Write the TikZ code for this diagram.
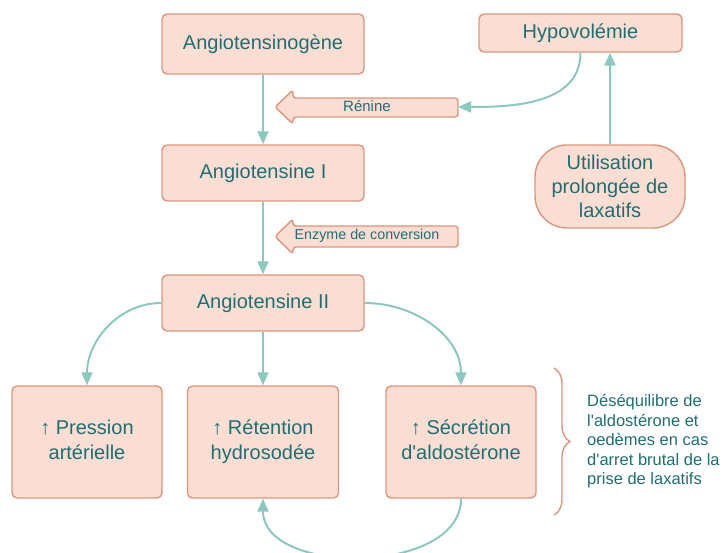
\documentclass[tikz,border=0pt]{standalone}
\usepackage{fontspec}
\setmainfont{Liberation Sans}
\usetikzlibrary{arrows.meta,decorations.pathreplacing}
\definecolor{boxfill}{HTML}{FADDD3}
\definecolor{boxline}{HTML}{DB967E}
\definecolor{txtc}{HTML}{216E72}
\definecolor{connc}{HTML}{8DC8C0}
\begin{document}
\begin{tikzpicture}[x=1pt,y=1pt,
  box/.style={draw=boxline, fill=boxfill, line width=1.4pt, rounded corners=5pt,
    text=txtc, font=\fontsize{20}{25}\selectfont, align=center, inner sep=0pt},
  arrowshape/.style={draw=boxline, fill=boxfill, line width=1.4pt, rounded corners=3pt},
  lbl/.style={text=txtc, inner sep=0pt},
  link/.style={draw=connc, line width=2pt, -{Triangle[width=11pt,length=13pt]}}
]
\useasboundingbox (0,0) rectangle (723,553);

% main boxes
\node[box, minimum width=202pt, minimum height=60pt] (ogene) at (263,509) {Angiotensinogène};
\node[box, minimum width=202pt, minimum height=56pt] (angI) at (263,380) {Angiotensine I};
\node[box, minimum width=202pt, minimum height=56pt] (angII) at (263,250) {Angiotensine II};
\node[box, minimum width=203pt, minimum height=38pt] (hypo) at (580.5,520) {Hypovolémie};
\node[box, minimum width=150pt, minimum height=83pt, rounded corners=32pt,
  font=\fontsize{20}{24}\selectfont] (util) at (610,366.5) {Utilisation\\prolongée de\\laxatifs};
\node[box, minimum width=150pt, minimum height=112pt] (pres) at (87,111) {↑ Pression\\artérielle\rule[-4pt]{0pt}{0pt}};
\node[box, minimum width=151pt, minimum height=112pt] (ret) at (263,111) {↑ Rétention\\hydrosodée\rule[-4pt]{0pt}{0pt}};
\node[box, minimum width=150pt, minimum height=112pt] (sec) at (461,111) {↑ Sécrétion\\d\textquotesingle aldostérone\rule[-4pt]{0pt}{0pt}};

% enzyme arrows
\draw[arrowshape] (458,455) -- (293,455) -- (293,463) -- (275,446) -- (293,429) -- (293,436) -- (458,436) -- cycle;
\node[lbl, font=\fontsize{15}{18}\selectfont] (renine) at (367,447) {Rénine};
\coordinate (renR) at (458,446);

\draw[arrowshape] (458,327) -- (293,327) -- (293,334) -- (275,316.5) -- (293,299) -- (293,306) -- (458,306) -- cycle;
\node[lbl, font=\fontsize{14.3}{17}\selectfont] (enz) at (367,317) {Enzyme de conversion};

% connectors
\draw[link] (ogene.south) -- (angI.north);
\draw[link] (angI.south) -- (angII.north);
\draw[link] (angII.south) -- (ret.north);
\draw[link] (angII.west) to[out=180,in=90] (pres.north);
\draw[link] (angII.east) to[out=0,in=90] (sec.north);
\draw[link] (sec.south) to[out=-90,in=-90] (ret.south);
\draw[link] (util.north) -- (util.north |- hypo.south);
\draw[link] (hypo.south) to[out=-90,in=0] (renR);

% brace and note
\coordinate (bt) at (554,185);
\coordinate (bb) at (554,38);
\draw[draw=boxline, line width=1.4pt, decorate, decoration={brace, amplitude=16pt}] (bt) -- (bb);
\node[lbl, anchor=west, align=left, font=\fontsize{16.5}{19.5}\selectfont] (note) at (587,111.5)
  {Déséquilibre de\\l\textquotesingle aldostérone et\\oedèmes en cas\\d\textquotesingle arret brutal de la\\prise de laxatifs};
\end{tikzpicture}
\end{document}
